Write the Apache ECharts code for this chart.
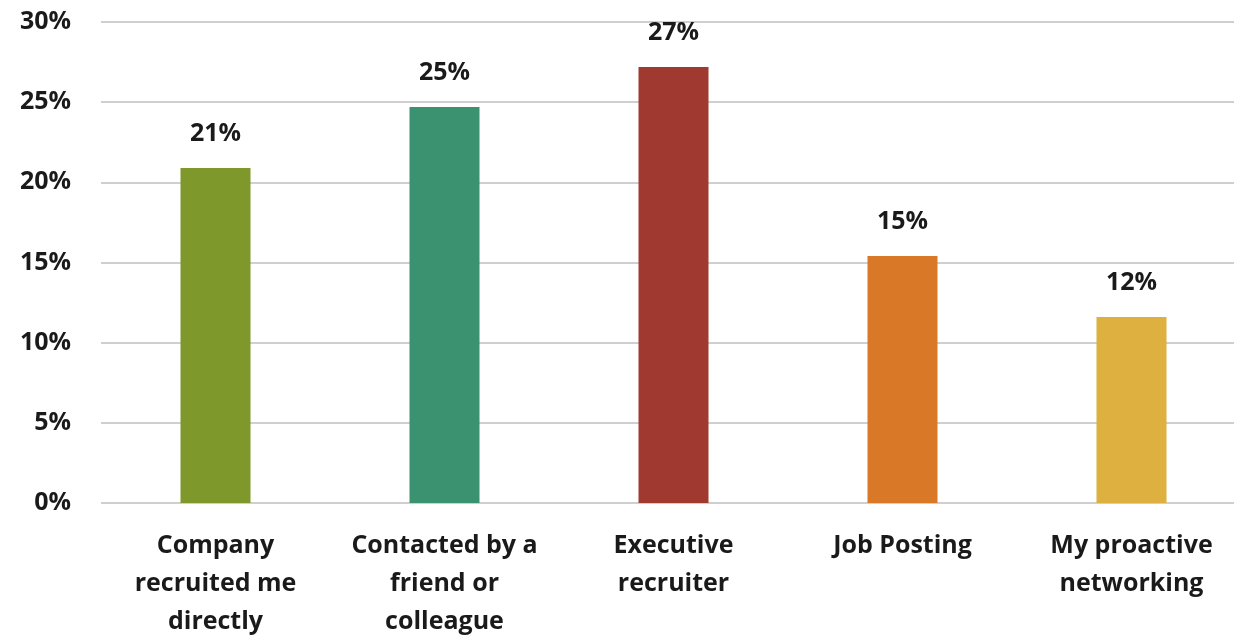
<!DOCTYPE html>
<html>
<head>
<meta charset="utf-8">
<script src="https://cdn.jsdelivr.net/npm/echarts@6/dist/echarts.min.js"></script>
<style>
  html, body { margin: 0; padding: 0; background: #fff; }
  #chart { width: 1234px; height: 639px; }
</style>
</head>
<body>
<div id="chart"></div>
<script>
var categories = ['Company\nrecruited me\ndirectly', 'Contacted by a\nfriend or\ncolleague', 'Executive\nrecruiter', 'Job Posting', 'My proactive\nnetworking'];
var values = [20.9, 24.7, 27.2, 15.4, 11.6];
var barColors = ['#7f982b', '#3a9270', '#a03a31', '#d97827', '#ddb03f'];
var yTicks = [0, 5, 10, 15, 20, 25, 30];

var font = '"Open Sans", "Noto Sans", sans-serif';

var chart = echarts.init(document.getElementById('chart'), null, { renderer: 'canvas' });
chart.setOption({
    animation: false,
    grid: { left: 101, right: -12, top: 22, bottom: 136, outerBoundsMode: 'none', containLabel: false },
    xAxis: {
        type: 'category',
        data: categories,
        axisLine: { show: false },
        axisTick: { show: false },
        axisLabel: {
            interval: 0,
            margin: 24,
            fontFamily: font,
            fontWeight: 'bold',
            fontSize: 25,
            lineHeight: 38,
            color: '#1a1a1a'
        }
    },
    yAxis: {
        type: 'value',
        min: yTicks[0],
        max: yTicks[yTicks.length - 1],
        interval: 5,
        axisLine: { show: false },
        axisTick: { show: false },
        axisLabel: {
            margin: 30,
            fontFamily: font,
            fontWeight: 'bold',
            fontSize: 25,
            color: '#1a1a1a',
            formatter: function (v) { return v + '%'; }
        },
        splitLine: { lineStyle: { color: '#cfcfcf', width: 2 } }
    },
    series: [{
        type: 'bar',
        barWidth: 70,
        data: values.map(function (v, i) {
            return { value: v, itemStyle: { color: barColors[i] } };
        }),
        label: {
            show: true,
            position: 'top',
            distance: 22,
            fontFamily: font,
            fontWeight: 'bold',
            fontSize: 25,
            color: '#1a1a1a',
            formatter: function (p) { return Math.round(p.value) + '%'; }
        }
    }]
});
</script>
</body>
</html>
